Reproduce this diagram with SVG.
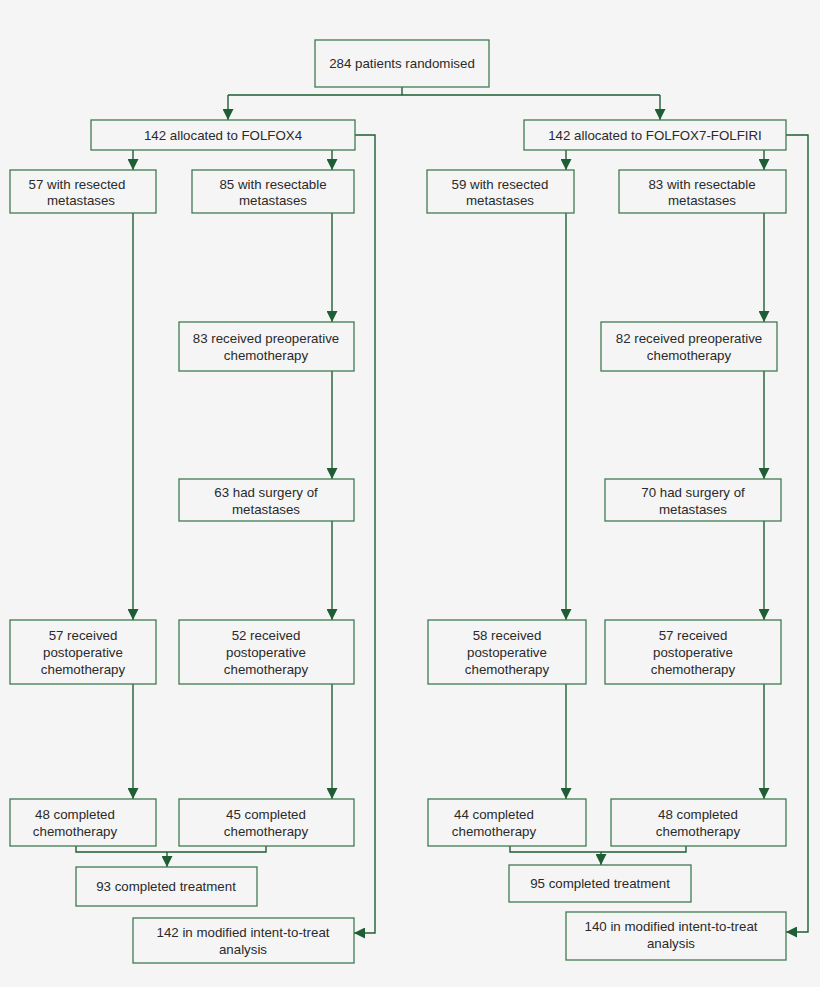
<svg xmlns="http://www.w3.org/2000/svg" width="820" height="987" viewBox="0 0 820 987">
<style>
.b{fill:#f5f5f5;stroke:#3f7a52;stroke-width:1.3}
.t{font-family:"Liberation Sans",Arial,sans-serif;font-size:13.3px;fill:#2a2a2a;text-anchor:middle}
.c{fill:none;stroke:#1f5e35;stroke-width:1.4}
</style>
<defs><marker id="a" viewBox="0 0 10 10" refX="10" refY="5" markerWidth="11" markerHeight="11" markerUnits="userSpaceOnUse" orient="auto"><path d="M0,0L10,5L0,10z" fill="#1f5e35"/></marker></defs>
<rect width="820" height="987" fill="#f5f5f5"/>
<g id="connectors" class="c">
<path d="M402,87V95M228,95H660"/>
<path d="M228,95V120" marker-end="url(#a)"/><path d="M660,95V120" marker-end="url(#a)"/>
<path d="M133,150V170" marker-end="url(#a)"/><path d="M332,150V170" marker-end="url(#a)"/>
<path d="M566,150V170" marker-end="url(#a)"/><path d="M764,150V170" marker-end="url(#a)"/>
<path d="M133,213V620" marker-end="url(#a)"/><path d="M133,684V799" marker-end="url(#a)"/>
<path d="M332,213V322" marker-end="url(#a)"/><path d="M332,371V479" marker-end="url(#a)"/>
<path d="M332,521V620" marker-end="url(#a)"/><path d="M332,684V799" marker-end="url(#a)"/>
<path d="M566,213V620" marker-end="url(#a)"/><path d="M566,684V799" marker-end="url(#a)"/>
<path d="M764,213V322" marker-end="url(#a)"/><path d="M764,371V479" marker-end="url(#a)"/>
<path d="M764,521V620" marker-end="url(#a)"/><path d="M764,684V799" marker-end="url(#a)"/>
<path d="M76,846V852H266V846"/><path d="M167,852V867" marker-end="url(#a)"/>
<path d="M510,846V852H686V846"/><path d="M601,852V865" marker-end="url(#a)"/>
<path d="M355,135H375V933H354" marker-end="url(#a)"/>
<path d="M786,135H808V932H786" marker-end="url(#a)"/>
</g>
<g id="n0"><rect class="b" x="315" y="40" width="174" height="47"/><text class="t" x="402" y="68">284 patients randomised</text></g>
<g id="n1"><rect class="b" x="91" y="120" width="264" height="30"/><text class="t" x="223" y="140">142 allocated to FOLFOX4</text></g>
<g id="n2"><rect class="b" x="524" y="120" width="262" height="30"/><text class="t" x="655" y="140">142 allocated to FOLFOX7-FOLFIRI</text></g>
<g id="n3"><rect class="b" x="10" y="170" width="146" height="43"/><text class="t" x="77" y="189">57 with resected</text><text class="t" x="81" y="205">metastases</text></g>
<g id="n4"><rect class="b" x="192" y="170" width="162" height="43"/><text class="t" x="273" y="189">85 with resectable</text><text class="t" x="273" y="205">metastases</text></g>
<g id="n5"><rect class="b" x="427" y="170" width="147" height="43"/><text class="t" x="500" y="189">59 with resected</text><text class="t" x="500" y="205">metastases</text></g>
<g id="n6"><rect class="b" x="619" y="170" width="167" height="43"/><text class="t" x="702" y="189">83 with resectable</text><text class="t" x="702" y="205">metastases</text></g>
<g id="n7"><rect class="b" x="179" y="322" width="175" height="49"/><text class="t" x="266" y="343">83 received preoperative</text><text class="t" x="266" y="360">chemotherapy</text></g>
<g id="n8"><rect class="b" x="601" y="322" width="176" height="49"/><text class="t" x="689" y="343">82 received preoperative</text><text class="t" x="689" y="360">chemotherapy</text></g>
<g id="n9"><rect class="b" x="179" y="479" width="175" height="42"/><text class="t" x="266" y="497">63 had surgery of</text><text class="t" x="266" y="514">metastases</text></g>
<g id="n10"><rect class="b" x="605" y="479" width="176" height="42"/><text class="t" x="693" y="497">70 had surgery of</text><text class="t" x="693" y="514">metastases</text></g>
<g id="n11"><rect class="b" x="10" y="620" width="146" height="64"/><text class="t" x="83" y="640">57 received</text><text class="t" x="83" y="657">postoperative</text><text class="t" x="83" y="674">chemotherapy</text></g>
<g id="n12"><rect class="b" x="179" y="620" width="175" height="64"/><text class="t" x="266" y="640">52 received</text><text class="t" x="266" y="657">postoperative</text><text class="t" x="266" y="674">chemotherapy</text></g>
<g id="n13"><rect class="b" x="428" y="620" width="158" height="64"/><text class="t" x="507" y="640">58 received</text><text class="t" x="507" y="657">postoperative</text><text class="t" x="507" y="674">chemotherapy</text></g>
<g id="n14"><rect class="b" x="605" y="620" width="176" height="64"/><text class="t" x="693" y="640">57 received</text><text class="t" x="693" y="657">postoperative</text><text class="t" x="693" y="674">chemotherapy</text></g>
<g id="n15"><rect class="b" x="10" y="799" width="146" height="47"/><text class="t" x="75" y="819">48 completed</text><text class="t" x="75" y="836">chemotherapy</text></g>
<g id="n16"><rect class="b" x="179" y="799" width="175" height="47"/><text class="t" x="266" y="819">45 completed</text><text class="t" x="266" y="836">chemotherapy</text></g>
<g id="n17"><rect class="b" x="428" y="799" width="158" height="47"/><text class="t" x="494" y="819">44 completed</text><text class="t" x="494" y="836">chemotherapy</text></g>
<g id="n18"><rect class="b" x="611" y="799" width="175" height="47"/><text class="t" x="698" y="819">48 completed</text><text class="t" x="698" y="836">chemotherapy</text></g>
<g id="n19"><rect class="b" x="76" y="867" width="181" height="39"/><text class="t" x="166" y="891">93 completed treatment</text></g>
<g id="n20"><rect class="b" x="509" y="865" width="182" height="37"/><text class="t" x="600" y="888">95 completed treatment</text></g>
<g id="n21"><rect class="b" x="133" y="918" width="221" height="45"/><text class="t" x="243" y="937">142 in modified intent-to-treat</text><text class="t" x="243" y="954">analysis</text></g>
<g id="n22"><rect class="b" x="566" y="912" width="220" height="48"/><text class="t" x="671" y="931">140 in modified intent-to-treat</text><text class="t" x="671" y="948">analysis</text></g>
</svg>
